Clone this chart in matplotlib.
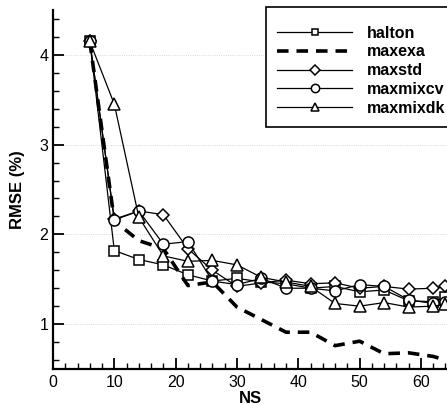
import matplotlib
matplotlib.use("Agg")
import matplotlib.pyplot as plt
from matplotlib.ticker import MultipleLocator

plt.rcParams['font.family'] = ['Liberation Sans', 'DejaVu Sans']

ns = [6, 10, 14, 18, 22, 26, 30, 34, 38, 42, 46, 50, 54, 58, 62, 64]
halton = [4.15, 1.82, 1.72, 1.66, 1.55, 1.48, 1.51, 1.47, 1.45, 1.40, 1.42, 1.36, 1.38, 1.26, 1.25, 1.30]
maxexa = [4.15, 2.15, 1.93, 1.84, 1.43, 1.47, 1.19, 1.05, 0.91, 0.91, 0.76, 0.81, 0.67, 0.68, 0.64, 0.60]
maxstd = [4.15, 2.17, 2.26, 2.22, 1.84, 1.60, 1.42, 1.46, 1.49, 1.45, 1.46, 1.40, 1.42, 1.39, 1.40, 1.42]
maxmixcv = [4.15, 2.16, 2.26, 1.89, 1.92, 1.48, 1.44, 1.51, 1.40, 1.40, 1.37, 1.44, 1.42, 1.27, 1.23, 1.25]
maxmixdk = [4.15, 3.45, 2.19, 1.76, 1.70, 1.71, 1.66, 1.52, 1.47, 1.42, 1.23, 1.20, 1.24, 1.19, 1.20, 1.22]

fig = plt.figure(figsize=(4.47, 4.05), dpi=100)
ax = fig.add_axes([53/447, 1-369/405, 1-53/447, (369-10)/405])

mk = dict(color='black', lw=0.9, mfc='white', mec='black', mew=1.1, ms=7)
ax.plot(ns, halton, marker='s', label='halton', **{**mk, 'ms': 6.5})
ax.plot(ns, maxexa, color='black', lw=2.6, ls=(0, (3.2, 2.2)), label='maxexa')
ax.plot(ns, maxstd, marker='D', label='maxstd', **{**mk, 'ms': 6.5})
ax.plot(ns, maxmixcv, marker='o', label='maxmixcv', **{**mk, 'ms': 8})
ax.plot(ns, maxmixdk, marker='^', label='maxmixdk', **{**mk, 'ms': 8})

ax.set_xlim(0, 64.25)
ax.set_ylim(0.5, 4.5)
ax.xaxis.set_major_locator(MultipleLocator(10))
ax.xaxis.set_minor_locator(MultipleLocator(2))
ax.yaxis.set_major_locator(MultipleLocator(1))
ax.yaxis.set_minor_locator(MultipleLocator(0.2))
ax.tick_params(which='major', direction='in', length=8, width=1.3, labelsize=11.5)
ax.tick_params(which='minor', direction='in', length=4, width=1.0)
ax.tick_params(axis='x', pad=4)
ax.grid(axis='y', which='major', ls=':', lw=0.6, color='#cccccc')
for s in ['top', 'right']:
    ax.spines[s].set_visible(False)
for s in ['left', 'bottom']:
    ax.spines[s].set_linewidth(1.6)

ax.set_xlabel('NS', fontsize=12, fontweight='bold')
ax.set_ylabel('RMSE (%)', fontsize=12, fontweight='bold')
ax.xaxis.set_label_coords(0.5, -0.062)
ax.yaxis.set_label_coords(-0.071, 0.5)

leg = ax.legend(loc='upper left', bbox_to_anchor=(266/447, 1-6.5/405), bbox_transform=fig.transFigure,
                fancybox=False, framealpha=1, edgecolor='black', handlelength=4.7,
                prop={'weight': 'bold', 'size': 11.5}, borderaxespad=0, labelspacing=0.24,
                handletextpad=0.9, borderpad=0.7, markerscale=0.75,
                title=' ', title_fontproperties={'size': 2})
leg.get_frame().set_linewidth(1.2)

fig.savefig('out.png', dpi=100)
